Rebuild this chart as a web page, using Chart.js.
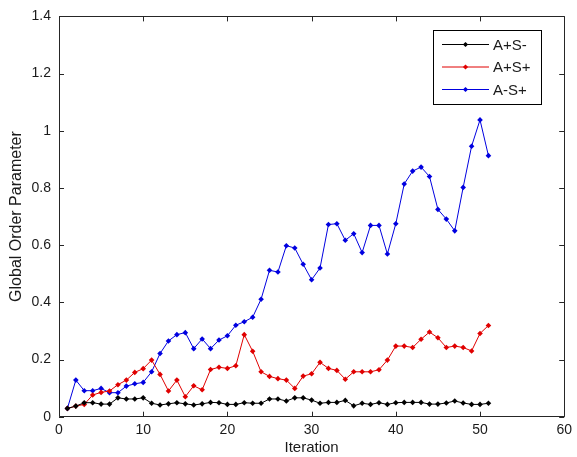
<!DOCTYPE html>
<html>
<head>
<meta charset="utf-8">
<script src="https://cdn.jsdelivr.net/npm/chart.js@4.4.0/dist/chart.umd.min.js"></script>
<style>
  html, body { margin: 0; padding: 0; background: #fff; }
  #wrap { width: 577px; height: 457px; position: relative; }
</style>
</head>
<body>
<div id="wrap"><canvas id="c" width="577" height="457"></canvas></div>
<script>
// ---- data ----
const iterations = [1,2,3,4,5,6,7,8,9,10,11,12,13,14,15,16,17,18,19,20,21,22,23,24,25,26,27,28,29,30,31,32,33,34,35,36,37,38,39,40,41,42,43,44,45,46,47,48,49,50,51];
const seriesNames = ['A+S-', 'A+S+', 'A-S+'];
const seriesAmSm = [0.029,0.037,0.049,0.049,0.044,0.044,0.066,0.062,0.062,0.066,0.047,0.041,0.045,0.049,0.045,0.041,0.045,0.050,0.049,0.043,0.043,0.049,0.047,0.047,0.062,0.062,0.055,0.066,0.066,0.058,0.047,0.050,0.050,0.057,0.038,0.047,0.043,0.049,0.043,0.049,0.050,0.050,0.050,0.044,0.044,0.048,0.055,0.048,0.043,0.043,0.047];
const seriesApSp = [0.029,0.037,0.043,0.076,0.085,0.090,0.112,0.128,0.155,0.168,0.198,0.148,0.090,0.128,0.070,0.108,0.094,0.165,0.173,0.169,0.178,0.287,0.229,0.157,0.141,0.133,0.128,0.099,0.142,0.150,0.190,0.169,0.162,0.131,0.157,0.157,0.157,0.164,0.198,0.247,0.247,0.242,0.271,0.296,0.276,0.242,0.247,0.242,0.230,0.291,0.319];
const seriesAmSp = [0.029,0.128,0.091,0.091,0.099,0.084,0.084,0.107,0.115,0.120,0.157,0.221,0.265,0.287,0.294,0.238,0.272,0.238,0.268,0.283,0.320,0.332,0.348,0.411,0.512,0.506,0.598,0.590,0.533,0.479,0.520,0.672,0.675,0.617,0.640,0.574,0.669,0.669,0.569,0.675,0.814,0.859,0.873,0.840,0.725,0.691,0.650,0.802,0.946,1.038,0.913];
const xTicks = [0,10,20,30,40,50,60];
const yTicks = [0,0.2,0.4,0.6,0.8,1,1.2,1.4];
const yTickLabels = ['0','0.2','0.4','0.6','0.8','1','1.2','1.4'];
const xTitle = 'Iteration';
const yTitle = 'Global Order Parameter';

// ---- styles ----
const colors = ['#000000', '#e00000', '#0000e0'];
const FONT = '"Liberation Sans", Arial, sans-serif';
const TEXT = '#1a1a1a';

const toPts = arr => iterations.map((x, i) => ({x: x, y: arr[i]}));
const allSeries = [seriesAmSm, seriesApSp, seriesAmSp];

const datasets = allSeries.map((s, k) => ({
  label: seriesNames[k],
  data: toPts(s),
  borderColor: colors[k],
  backgroundColor: colors[k],
  borderWidth: 1,
  pointStyle: 'rectRot',
  pointRadius: 2.8,
  pointBorderWidth: 0,
  pointBackgroundColor: colors[k],
  tension: 0,
  fill: false
}));

const framePlugin = {
  id: 'frame',
  afterDatasetsDraw(chart) {
    const {ctx, chartArea: a, scales} = chart;
    const xs = scales.x, ys = scales.y;
    ctx.save();
    ctx.strokeStyle = '#262626';
    ctx.lineWidth = 1;
    ctx.beginPath();
    ctx.rect(Math.round(a.left) + 0.5, Math.round(a.top) + 0.5, Math.round(a.right - a.left), Math.round(a.bottom - a.top));
    ctx.stroke();
    const tl = 5;
    ctx.beginPath();
    xTicks.forEach(v => {
      const px = Math.round(xs.getPixelForValue(v)) + 0.5;
      ctx.moveTo(px, a.bottom); ctx.lineTo(px, a.bottom - tl);
      ctx.moveTo(px, a.top); ctx.lineTo(px, a.top + tl);
    });
    yTicks.forEach(v => {
      const py = Math.round(ys.getPixelForValue(v)) + 0.5;
      ctx.moveTo(a.left, py); ctx.lineTo(a.left + tl, py);
      ctx.moveTo(a.right, py); ctx.lineTo(a.right - tl, py);
    });
    ctx.stroke();

    // legend box
    const bx = 433.5, by = 30.5, bw = 108, bh = 74;
    ctx.fillStyle = '#ffffff';
    ctx.fillRect(bx, by, bw, bh);
    ctx.strokeStyle = '#000000';
    ctx.strokeRect(bx, by, bw, bh);
    const rows = [44, 66.5, 89];
    ctx.font = '15px ' + FONT;
    ctx.textBaseline = 'middle';
    ctx.textAlign = 'left';
    chart.data.datasets.forEach((ds, k) => {
      const y = rows[k] + 0.5;
      ctx.strokeStyle = ds.borderColor;
      ctx.beginPath(); ctx.moveTo(442, y); ctx.lineTo(489, y); ctx.stroke();
      ctx.fillStyle = ds.borderColor;
      ctx.beginPath();
      const cx = 465.5, r = 2.6;
      ctx.moveTo(cx, y - r); ctx.lineTo(cx + r, y); ctx.lineTo(cx, y + r); ctx.lineTo(cx - r, y); ctx.closePath();
      ctx.fill();
      ctx.fillStyle = TEXT;
      ctx.fillText(ds.label, 493, y + 1);
    });
    ctx.restore();
  }
};

new Chart(document.getElementById('c'), {
  type: 'line',
  data: { datasets: datasets },
  options: {
    responsive: false,
    animation: false,
    devicePixelRatio: 1,
    layout: { padding: { left: 0, top: 15.5, right: 9.5, bottom: 0 } },
    plugins: { legend: { display: false }, tooltip: { enabled: false } },
    scales: {
      x: {
        type: 'linear', min: 0, max: 60,
        afterBuildTicks: s => { s.ticks = xTicks.map(v => ({value: v})); },
        ticks: { padding: 5, color: TEXT, font: { family: FONT, size: 14 }, maxRotation: 0, autoSkip: false },
        grid: { display: false, drawTicks: false, tickLength: 0 },
        border: { display: false },
        title: { display: true, text: xTitle, color: TEXT, font: { family: FONT, size: 15 }, padding: { top: 0, bottom: 0 } },
        afterFit: s => { s.height = 40.3; }
      },
      y: {
        type: 'linear', min: 0, max: 1.4,
        afterBuildTicks: s => { s.ticks = yTicks.map(v => ({value: v})); },
        ticks: { padding: 8, color: TEXT, font: { family: FONT, size: 14 }, autoSkip: false,
                 callback: (v) => { const i = yTicks.findIndex(t => Math.abs(t - v) < 1e-9); return i >= 0 ? yTickLabels[i] : ''; } },
        grid: { display: false, drawTicks: false, tickLength: 0 },
        border: { display: false },
        title: { display: true, text: yTitle, color: TEXT, font: { family: FONT, size: 16 }, padding: { top: 7, bottom: 0 } },
        afterFit: s => { s.width = 59; }
      }
    }
  },
  plugins: [framePlugin]
});
</script>
</body>
</html>
